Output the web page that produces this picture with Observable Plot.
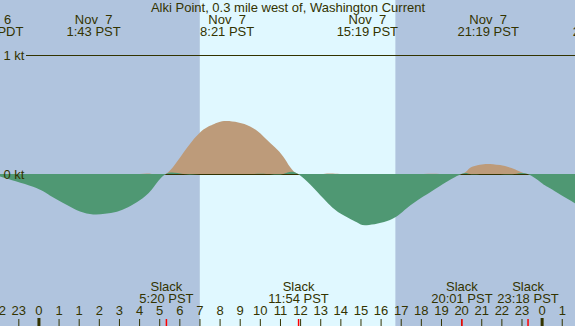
<!DOCTYPE html>
<html>
<head>
<meta charset="utf-8">
<script src="https://cdn.jsdelivr.net/npm/d3@7"></script>
<script src="https://cdn.jsdelivr.net/npm/@observablehq/plot@0.6"></script>
<style>
  html, body { margin: 0; padding: 0; background: #b0c4de; }
  svg { display: block; }
</style>
</head>
<body>
<div id="chart"></div>
<script>
// ---- data ----
const title = "Alki Point, 0.3 mile west of, Washington Current";

// current speed samples (knots), local times
const curveTimes = [
  "2021-11-06T21:53-07:00", "2021-11-06T22:05-07:00", "2021-11-06T23:44-07:00",
  "2021-11-07T00:34-07:00", "2021-11-07T01:25-07:00", "2021-11-07T01:04-08:00",
  "2021-11-07T01:43-08:00", "2021-11-07T02:18-08:00", "2021-11-07T02:54-08:00",
  "2021-11-07T03:27-08:00", "2021-11-07T04:02-08:00", "2021-11-07T04:38-08:00",
  "2021-11-07T05:20-08:00",
  "2021-11-07T06:11-08:00", "2021-11-07T07:01-08:00", "2021-11-07T07:40-08:00",
  "2021-11-07T08:21-08:00", "2021-11-07T09:31-08:00", "2021-11-07T10:20-08:00",
  "2021-11-07T11:10-08:00", "2021-11-07T11:54-08:00",
  "2021-11-07T13:09-08:00", "2021-11-07T13:59-08:00", "2021-11-07T14:49-08:00",
  "2021-11-07T15:19-08:00", "2021-11-07T16:28-08:00", "2021-11-07T17:17-08:00",
  "2021-11-07T18:07-08:00", "2021-11-07T18:57-08:00", "2021-11-07T20:01-08:00",
  "2021-11-07T20:26-08:00", "2021-11-07T20:56-08:00", "2021-11-07T21:19-08:00",
  "2021-11-07T21:56-08:00", "2021-11-07T22:40-08:00", "2021-11-07T23:18-08:00",
  "2021-11-08T00:00-08:00", "2021-11-08T00:25-08:00", "2021-11-08T01:39-08:00",
  "2021-11-08T02:52-08:00"
];
const curveKnots = [
  0, -0.02, -0.107,
  -0.18, -0.26, -0.315,
  -0.34, -0.335, -0.317,
  -0.28, -0.22, -0.13,
  0,
  0.174, 0.347, 0.415,
  0.445, 0.40, 0.29,
  0.146, 0,
  -0.204, -0.33, -0.406,
  -0.43, -0.387, -0.29,
  -0.19, -0.10, 0,
  0.05, 0.078, 0.085,
  0.075, 0.04, 0,
  -0.075, -0.12, -0.245,
  -0.36
];

// max flood / ebb labels
const peakTimes = ["2021-11-06T21:41-07:00", "2021-11-07T01:43-08:00", "2021-11-07T08:21-08:00",
                   "2021-11-07T15:19-08:00", "2021-11-07T21:19-08:00", "2021-11-08T02:52-08:00"];
const peakDays = ["Nov\u00a0\u00a06", "Nov\u00a0\u00a07", "Nov\u00a0\u00a07", "Nov\u00a0\u00a07", "Nov\u00a0\u00a07", "Nov\u00a0\u00a08"];
const peakClocks = ["21:41 PDT", "1:43 PST", "8:21 PST", "15:19 PST", "21:19 PST", "2:52 PST"];

// slack water
const slackTimes = ["2021-11-07T05:20-08:00", "2021-11-07T11:54-08:00",
                    "2021-11-07T20:01-08:00", "2021-11-07T23:18-08:00"];
const slackClocks = ["5:20 PST", "11:54 PST", "20:01 PST", "23:18 PST"];

// hour ticks starting at 22:00 PDT Nov 6 (note repeated 1 at DST end)
const hourStart = "2021-11-06T22:00-07:00";
const hourLabels = ["22", "23", "0", "1", "1", "2", "3", "4", "5", "6", "7", "8", "9", "10", "11",
  "12", "13", "14", "15", "16", "17", "18", "19", "20", "21", "22", "23", "0", "1", "2"];
const midnights = ["2021-11-07T00:00-07:00", "2021-11-08T00:00-08:00"];

// daylight
const sunrise = "2021-11-07T07:01-08:00";
const sunset = "2021-11-07T16:44-08:00";

// speed reference lines
const refLevels = [1, 0];
const refLabels = ["1 kt", "0 kt"];

// ---- build ----
const parse = s => new Date(s);
const curve = curveTimes.map((t, i) => ({t: parse(t), v: curveKnots[i]}));
const peaks = peakTimes.map((t, i) => ({t: parse(t), text: peakDays[i] + "\n" + peakClocks[i]}));
const slacks = slackTimes.map((t, i) => ({t: parse(t), text: "Slack\n" + slackClocks[i]}));
const h0 = parse(hourStart);
const hours = hourLabels.map((l, i) => ({t: new Date(+h0 + i * 3600e3), label: l}));
const refs = refLevels.map((v, i) => ({v, label: refLabels[i]}));

const ink = "#333300";
const nightColor = "#b0c4de";
const dayColor = "#e0f8ff";
const floodColor = "#bd9b7a";
const ebbColor = "#4f9873";

const chart = Plot.plot({
  width: 575,
  height: 326,
  margin: 0,
  x: {type: "utc", domain: [new Date("2021-11-07T05:05:24Z"), new Date("2021-11-08T09:39:30Z")], axis: null},
  y: {domain: [-1.2773, 1.4622], axis: null},
  style: {fontFamily: "'Liberation Sans', Arial, sans-serif", fontSize: "13px", background: nightColor, overflow: "hidden"},
  marks: [
    Plot.frame({fill: nightColor, stroke: null}),
    Plot.rect([{a: parse(sunrise), b: parse(sunset)}], {x1: "a", x2: "b", fill: dayColor}),
    Plot.ruleY(refs, {y: "v", stroke: ink, strokeWidth: 1.2, insetLeft: 26}),
    Plot.areaY(curve, {x: "t", y: d => d.v >= 0 ? d.v : NaN, fill: floodColor, curve: "natural", clip: true}),
    Plot.areaY(curve, {x: "t", y: d => d.v <= 0 ? d.v : NaN, fill: ebbColor, curve: "natural", clip: true}),
    Plot.text(refs, {y: "v", text: "label", frameAnchor: "left", textAnchor: "start", dx: 3, fill: ink}),
    Plot.text([title], {text: d => d, frameAnchor: "top", lineAnchor: "top", dy: 2, fill: ink}),
    Plot.text(peaks, {x: "t", text: "text", frameAnchor: "top", lineAnchor: "top", dy: 15, lineHeight: 0.9, fill: ink}),
    Plot.text(slacks, {x: "t", text: "text", frameAnchor: "bottom", lineAnchor: "bottom", dy: -24, lineHeight: 0.9, fill: ink}),
    Plot.text(hours, {x: "t", text: "label", frameAnchor: "bottom", lineAnchor: "bottom", dy: -12, fill: ink}),
    Plot.ruleX(hours, {x: "t", stroke: ink, strokeWidth: 1, insetTop: 319}),
    Plot.ruleX(midnights.map(parse), {x: d => d, stroke: ink, strokeWidth: 3, insetTop: 318}),
    Plot.ruleX(slacks, {x: "t", stroke: "red", strokeWidth: 1.5, insetTop: 319})
  ]
});
document.getElementById("chart").appendChild(chart);
</script>
</body>
</html>
